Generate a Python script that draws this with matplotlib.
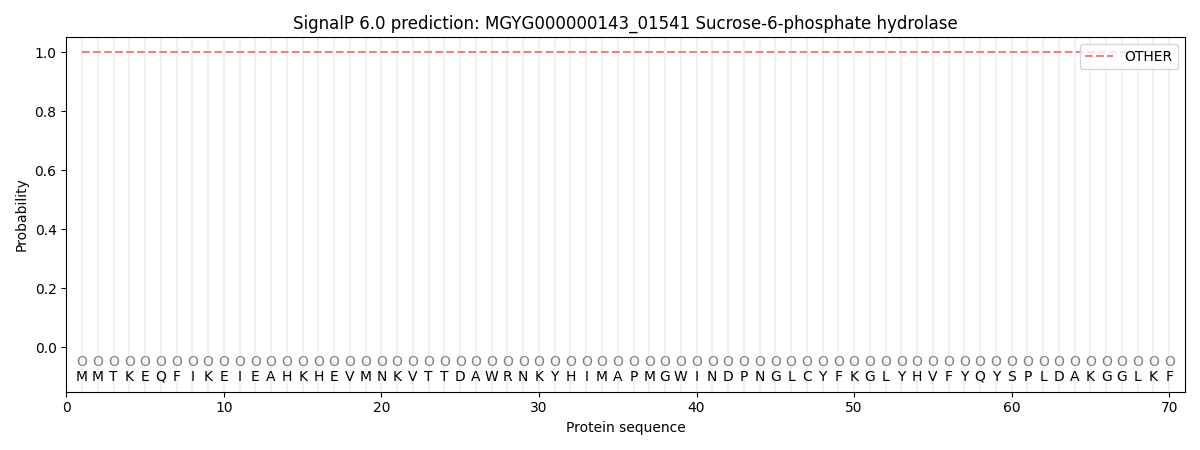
import matplotlib
matplotlib.use("Agg")
import matplotlib.pyplot as plt
import numpy as np

sequence = list("MMTKEQFIKEIEAHKHEVMNKVTTDAWRNKYHIMAPMGWINDPNGLCYFKGLYHVFYQYSPLDAKGGLKF")
positions = list(range(1, len(sequence) + 1))
other_prob = [1.0] * len(sequence)
pred_labels = ["O"] * len(sequence)

fig, ax = plt.subplots(figsize=(12, 4.5), dpi=100)
for p in positions:
    ax.axvline(p, color="#f1f1f1", linewidth=1.5, zorder=0)
ax.plot(positions, other_prob, linestyle="--", color="#f08080", linewidth=1.5, label="OTHER")
for p, aa, lab in zip(positions, sequence, pred_labels):
    ax.text(p, -0.05, lab, ha="center", va="center", color="gray", fontsize=10)
    ax.text(p, -0.1, aa, ha="center", va="center", color="black", fontsize=10)
ax.set_xlim(0, 71)
ax.set_ylim(-0.15, 1.05)
ax.set_xlabel("Protein sequence")
ax.set_ylabel("Probability")
ax.set_title("SignalP 6.0 prediction: MGYG000000143_01541 Sucrose-6-phosphate hydrolase")
ax.legend(loc="upper right")
fig.tight_layout()
fig.savefig("out.png")
